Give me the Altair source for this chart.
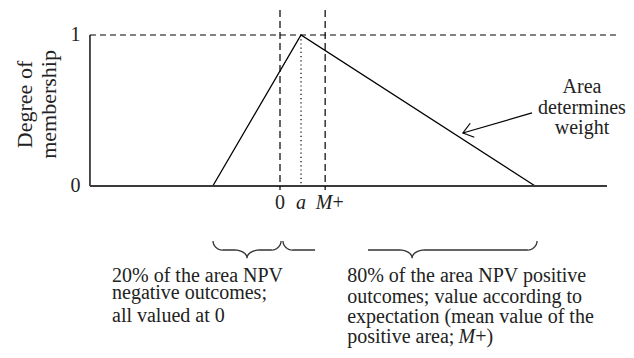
import math
import altair as alt
import pandas as pd

# ---- data (NPV units, membership degree) ----
tri_npv = [-3.2, 1.0, 12.15]
tri_mem = [0.0, 1.0, 0.0]
a_val = 1.0
m_plus = 2.15
zero_val = 0.0
axis_left = -9.05
axis_right = 15.57
top_right = 16.19
vline_top = 1.166
vline_bottom = -0.026

x_tick_text = ["0", "a", "M", "+"]
y_tick_text = ["1", "0"]
y_title = ["Degree of", "membership"]
area_text = ["Area", "determines", "weight"]
left_text = ["20% of the area NPV", "negative outcomes;", "all valued at 0"]
right_text = ["80% of the area NPV positive", "outcomes; value according to",
              "expectation (mean value of the", "positive area;"]
right_tail_italic = "M"
right_tail_plain = "+)"

# ---- layout helpers (data units) ----
W, H = 618, 342
PX_X, PX_Y = 21.0, 151.0
X0 = -272 / PX_X
Y1 = 1 + 27 / PX_Y
XS = alt.Scale(domain=[X0, X0 + W / PX_X], nice=False, zero=False)
YS = alt.Scale(domain=[Y1 - H / PX_Y, Y1], nice=False, zero=False)
FONT = "Liberation Serif"
FS = 20
INK = "#222222"


def X(f):
    return alt.X(f, type="quantitative", scale=XS, axis=None)


def Y(f):
    return alt.Y(f, type="quantitative", scale=YS, axis=None)


# triangle
tri = pd.DataFrame({"x": tri_npv, "y": tri_mem, "o": [0, 1, 2]})
tri_layer = alt.Chart(tri).mark_line(color="black", strokeWidth=1.3).encode(
    x=X("x"), y=Y("y"), order="o:Q")

# axes
axes = pd.DataFrame({"x": [axis_left, axis_left], "x2": [axis_right, axis_left],
                     "y": [0.0, 0.0], "y2": [0.0, 1.0]})
axis_layer = alt.Chart(axes).mark_rule(color="#3a3a3a", strokeWidth=1.8).encode(
    x=X("x"), x2="x2", y=Y("y"), y2="y2")

top_line = alt.Chart(pd.DataFrame({"x": [axis_left], "x2": [top_right], "y": [1.0]})).mark_rule(
    color="black", strokeWidth=1.2, strokeDash=[6, 4]).encode(x=X("x"), x2="x2", y=Y("y"))

vlines = alt.Chart(pd.DataFrame({"x": [zero_val, m_plus], "y": [vline_top] * 2,
                                 "y2": [vline_bottom] * 2})).mark_rule(
    color="black", strokeWidth=1.2, strokeDash=[7, 4]).encode(x=X("x"), y=Y("y"), y2="y2")

dotted = alt.Chart(pd.DataFrame({"x": [a_val], "y": [1.0], "y2": [0.0]})).mark_rule(
    color="black", strokeWidth=1.2, strokeDash=[1.2, 3]).encode(x=X("x"), y=Y("y"), y2="y2")

# braces
B_TOP, B_LINE, B_CUSP = -0.364, -0.424, -0.477
HOOK, CUSPW = 0.45, 0.6


def brace(xa, xc, xb, gid, gap=None):
    pts = []
    n = 8
    for i in range(n + 1):
        t = math.pi / 2 * i / n
        pts.append((xa + HOOK - HOOK * math.cos(t), B_TOP + (B_LINE - B_TOP) * math.sin(t)))
    for i in range(n + 1):
        t = math.pi / 2 * i / n
        pts.append((xc - CUSPW + CUSPW * math.sin(t), B_CUSP - (B_CUSP - B_LINE) * math.cos(t)))
    for i in range(n, -1, -1):
        t = math.pi / 2 * i / n
        pts.append((xc + CUSPW - CUSPW * math.sin(t), B_CUSP - (B_CUSP - B_LINE) * math.cos(t)))
    for i in range(n, -1, -1):
        t = math.pi / 2 * i / n
        pts.append((xb - HOOK + HOOK * math.cos(t), B_TOP + (B_LINE - B_TOP) * math.sin(t)))
    if gap is None:
        return [{"x": px, "y": py, "o": k, "g": gid} for k, (px, py) in enumerate(pts)]
    first = [(px, py) for px, py in pts if px <= gap[0]] + [(gap[0], B_LINE)]
    second = [(gap[1], B_LINE)] + [(px, py) for px, py in pts if px >= gap[1]]
    rows = [{"x": px, "y": py, "o": k, "g": gid} for k, (px, py) in enumerate(first)]
    rows += [{"x": px, "y": py, "o": k, "g": gid + "b"} for k, (px, py) in enumerate(second)]
    return rows


brace_rows = brace(-3.19, -1.57, 0.05, "L") + brace(0.14, 6.29, 12.24, "R", gap=(1.67, 4.19))
braces = alt.Chart(pd.DataFrame(brace_rows)).mark_line(color="#333333", strokeWidth=1.3).encode(
    x=X("x"), y=Y("y"), detail="g:N", order="o:Q")

# arrow
arrow_tail = (12.0, 0.484)
arrow_tip = (8.71, 0.351)
arrow = alt.Chart(pd.DataFrame({"x": [arrow_tail[0]], "x2": [arrow_tip[0]],
                                "y": [arrow_tail[1]], "y2": [arrow_tip[1]]})).mark_rule(
    color="black", strokeWidth=1.2).encode(x=X("x"), x2="x2", y=Y("y"), y2="y2")
ang = math.degrees(math.atan2((arrow_tail[1] - arrow_tip[1]) * PX_Y,
                              (arrow_tip[0] - arrow_tail[0]) * PX_X))
head = alt.Chart(pd.DataFrame({"x": [arrow_tip[0]], "y": [arrow_tip[1]]})).mark_point(
    shape="M -1 -0.75 L 0 0 L -1 0.75", filled=False, stroke="black", strokeWidth=1.2,
    size=380, angle=ang % 360, opacity=1).encode(x=X("x"), y=Y("y"))


def text_layer(xs, ys, texts, align="left", baseline="alphabetic", style="normal", angle=0, size=FS):
    df = pd.DataFrame({"x": xs, "y": ys, "t": texts})
    return alt.Chart(df).mark_text(font=FONT, fontSize=size, color=INK, align=align,
                                   baseline=baseline, fontStyle=style, angle=angle).encode(
        x=X("x"), y=Y("y"), text="t:N")


texts = [
    text_layer([-9.5, -9.5], [1.0, 0.0], y_tick_text, align="right", baseline="middle"),
    text_layer([-12.14, -11.0], [0.54, 0.54], y_title, align="center", baseline="middle",
               angle=270, size=22),
    text_layer([zero_val], [-0.152], [x_tick_text[0]], align="center"),
    text_layer([a_val], [-0.152], [x_tick_text[1]], align="center", style="italic"),
    text_layer([2.5], [-0.152], [x_tick_text[2]], align="right", style="italic"),
    text_layer([2.5], [-0.152], [x_tick_text[3]], align="left"),
    text_layer([14.38] * 3, [0.616, 0.477, 0.344], area_text, align="center"),
    text_layer([-8.0] * 3, [-0.636, -0.748, -0.901], left_text),
    text_layer([3.2] * 4, [-0.636, -0.775, -0.907, -1.040], right_text),
    text_layer([8.5], [-1.040], [right_tail_italic], style="italic"),
    text_layer([9.3], [-1.040], [right_tail_plain]),
]

chart = alt.layer(tri_layer, axis_layer, top_line, vlines, dotted, braces, arrow, head, *texts).properties(
    width=W, height=H, padding=0, autosize="none"
).configure_view(stroke=None)

chart.save("out.html", embed_options={"renderer": "svg", "actions": False})
